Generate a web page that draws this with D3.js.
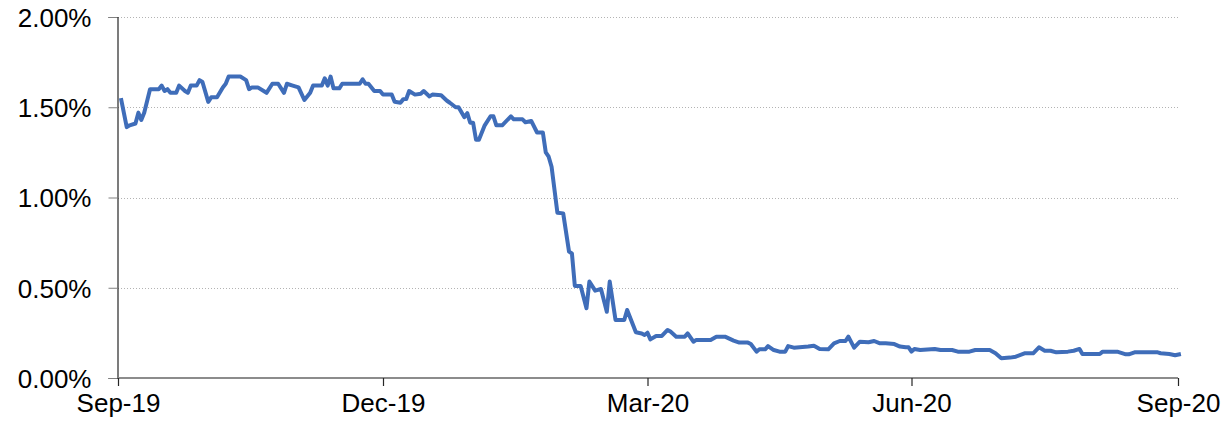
<!DOCTYPE html>
<html>
<head>
<meta charset="utf-8">
<script src="https://cdn.jsdelivr.net/npm/d3@7"></script>
<style>
  body { margin: 0; background: #fff; }
  svg { display: block; font-family: "Liberation Sans", Arial, sans-serif; }
</style>
</head>
<body>
<div id="chart"></div>
<script>
// quarter ticks on the x axis
let tickDates = ["2019-09-01", "2019-12-01", "2020-03-01", "2020-06-01", "2020-09-01"];
let yTicks = [0, 0.5, 1, 1.5, 2];

// series (percent)
let dates = [
  "2019-09-02","2019-09-04","2019-09-05","2019-09-07","2019-09-08","2019-09-09","2019-09-10","2019-09-12",
  "2019-09-15","2019-09-16","2019-09-17","2019-09-18","2019-09-19","2019-09-21","2019-09-22","2019-09-24",
  "2019-09-25","2019-09-26","2019-09-28","2019-09-29","2019-09-30","2019-10-02","2019-10-03","2019-10-05",
  "2019-10-07","2019-10-08","2019-10-09","2019-10-13","2019-10-15","2019-10-16","2019-10-17","2019-10-19",
  "2019-10-22","2019-10-24","2019-10-26","2019-10-28","2019-10-29","2019-10-31","2019-11-02","2019-11-04",
  "2019-11-06","2019-11-07","2019-11-10","2019-11-11","2019-11-12","2019-11-13","2019-11-14","2019-11-16",
  "2019-11-17","2019-11-23","2019-11-24","2019-11-25","2019-11-26","2019-11-28","2019-11-30","2019-12-01",
  "2019-12-04","2019-12-05","2019-12-07","2019-12-08","2019-12-09","2019-12-10","2019-12-12","2019-12-14",
  "2019-12-15","2019-12-17","2019-12-18","2019-12-21","2019-12-23","2019-12-24","2019-12-26","2019-12-27",
  "2019-12-29","2019-12-30","2019-12-31","2020-01-01","2020-01-02","2020-01-03","2020-01-05","2020-01-07",
  "2020-01-08","2020-01-09","2020-01-11","2020-01-14","2020-01-15","2020-01-18","2020-01-19","2020-01-21",
  "2020-01-23","2020-01-25","2020-01-26","2020-01-27","2020-01-28","2020-01-30","2020-02-01","2020-02-03",
  "2020-02-04","2020-02-05","2020-02-07","2020-02-09","2020-02-10","2020-02-12","2020-02-14","2020-02-16",
  "2020-02-17","2020-02-19","2020-02-22","2020-02-23","2020-02-26","2020-02-28","2020-02-29","2020-03-01",
  "2020-03-02","2020-03-04","2020-03-06","2020-03-08","2020-03-09","2020-03-11","2020-03-14","2020-03-15",
  "2020-03-17","2020-03-18","2020-03-23","2020-03-25","2020-03-28","2020-03-31","2020-04-02","2020-04-05",
  "2020-04-06","2020-04-08","2020-04-09","2020-04-11","2020-04-12","2020-04-14","2020-04-16","2020-04-18",
  "2020-04-19","2020-04-21","2020-04-23","2020-04-26","2020-04-28","2020-04-30","2020-05-03","2020-05-05",
  "2020-05-07","2020-05-09","2020-05-10","2020-05-12","2020-05-14","2020-05-17","2020-05-19","2020-05-21",
  "2020-05-23","2020-05-26","2020-05-28","2020-05-30","2020-05-31","2020-06-01","2020-06-02","2020-06-04",
  "2020-06-09","2020-06-11","2020-06-15","2020-06-17","2020-06-21","2020-06-23","2020-06-28","2020-06-30",
  "2020-07-02","2020-07-05","2020-07-07","2020-07-10","2020-07-13","2020-07-15","2020-07-17","2020-07-19",
  "2020-07-21","2020-07-25","2020-07-27","2020-07-29","2020-07-30","2020-08-03","2020-08-05","2020-08-06",
  "2020-08-11","2020-08-14","2020-08-15","2020-08-17","2020-08-25","2020-08-26","2020-08-29","2020-08-31",
  "2020-09-02"
];
let values = [
  1.55,1.39,1.40,1.41,1.47,1.43,1.47,1.60,
  1.60,1.62,1.59,1.60,1.58,1.58,1.62,1.59,
  1.58,1.62,1.62,1.65,1.64,1.53,1.555,1.555,
  1.61,1.63,1.67,1.67,1.65,1.60,1.61,1.61,
  1.58,1.63,1.63,1.58,1.63,1.62,1.61,1.54,
  1.58,1.62,1.62,1.66,1.62,1.67,1.605,1.605,
  1.63,1.63,1.655,1.63,1.63,1.59,1.59,1.57,
  1.57,1.53,1.525,1.545,1.546,1.59,1.57,1.575,
  1.59,1.56,1.57,1.566,1.536,1.525,1.50,1.50,
  1.445,1.467,1.414,1.414,1.32,1.32,1.40,1.45,
  1.45,1.40,1.40,1.45,1.433,1.433,1.417,1.424,
  1.36,1.36,1.25,1.226,1.17,0.916,0.912,0.70,
  0.69,0.51,0.51,0.386,0.534,0.484,0.493,0.367,
  0.534,0.321,0.321,0.377,0.253,0.247,0.238,0.251,
  0.214,0.233,0.233,0.266,0.257,0.229,0.229,0.247,
  0.201,0.211,0.211,0.229,0.229,0.207,0.196,0.196,
  0.188,0.146,0.159,0.159,0.177,0.155,0.146,0.146,
  0.177,0.168,0.170,0.174,0.179,0.161,0.159,0.192,
  0.205,0.205,0.229,0.168,0.201,0.198,0.205,0.192,
  0.192,0.188,0.174,0.170,0.170,0.146,0.161,0.155,
  0.161,0.155,0.155,0.146,0.146,0.155,0.155,0.137,
  0.109,0.113,0.118,0.137,0.137,0.170,0.151,0.151,
  0.142,0.146,0.151,0.161,0.133,0.133,0.133,0.146,
  0.146,0.131,0.131,0.142,0.142,0.137,0.133,0.126,
  0.133
];

let w = 1230;
let h = 427;
let m = {top: 17, right: 52, bottom: 49, left: 118};

let parse = d3.timeParse("%Y-%m-%d");
let ticks = tickDates.map(parse);
let data = dates.map((d, i) => ({date: parse(d), value: values[i]}));

let svg = d3.select("#chart")
  .append("svg")
  .attr("width", w)
  .attr("height", h);

// quarters are drawn evenly spaced, like the source chart
let x = d3.scaleTime()
  .domain(ticks)
  .range([118, 383, 647.5, 911.5, 1178]);

let y = d3.scaleLinear()
  .domain([0, 2])
  .range([h - m.bottom, m.top]);

// gridlines
svg.append("g")
  .selectAll("line")
  .data(yTicks.filter(d => d > 0))
  .enter()
  .append("line")
  .attr("x1", m.left)
  .attr("x2", 1180)
  .attr("y1", d => Math.round(y(d)) + 0.5)
  .attr("y2", d => Math.round(y(d)) + 0.5)
  .style("stroke", "#b3b3b3")
  .style("stroke-width", 1)
  .style("stroke-dasharray", "1,2");

// y axis
let yAxis = svg.append("g")
  .attr("transform", "translate(" + (m.left - 0.5) + ",0)")
  .call(d3.axisLeft(y).tickValues(yTicks).tickSize(9).tickPadding(17)
    .tickFormat(d => d3.format(".2f")(d) + "%"));
yAxis.select(".domain").style("stroke", "#262626").style("stroke-width", 1.2);
yAxis.selectAll(".tick line").style("stroke", "#808080");
yAxis.selectAll("text")
  .style("font-size", "26px")
  .style("fill", "#000")
  .attr("dy", "0.36em");

// x axis
let xAxis = svg.append("g")
  .attr("transform", "translate(0," + (y(0)) + ")")
  .call(d3.axisBottom(x).tickValues(ticks).tickSize(8).tickPadding(8)
    .tickFormat(d3.timeFormat("%b-%y")));
xAxis.select(".domain").attr("d", "M" + m.left + ",0H1178").style("stroke", "#8c8c8c").style("stroke-width", 2);
xAxis.selectAll(".tick line").style("stroke", "#262626").style("stroke-width", 1.2);
xAxis.selectAll("text")
  .style("font-size", "26px")
  .style("fill", "#000");

// the line
let line = d3.line()
  .x(d => x(d.date))
  .y(d => y(d.value));

svg.append("path")
  .datum(data)
  .attr("d", line)
  .style("fill", "none")
  .style("stroke", "#3F6DB9")
  .style("stroke-width", 4)
  .style("stroke-linejoin", "round");
</script>
</body>
</html>
